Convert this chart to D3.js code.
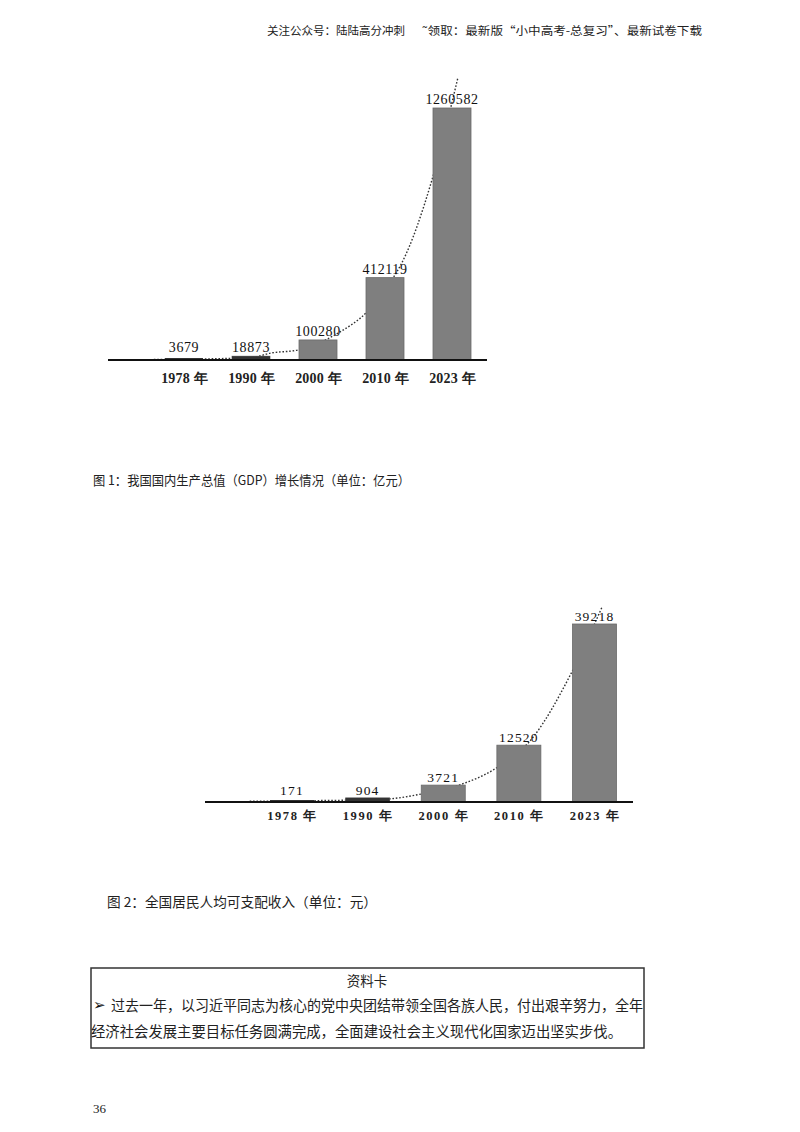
<!DOCTYPE html>
<html><head><meta charset="utf-8">
<script src="https://cdn.jsdelivr.net/npm/d3@7"></script>
<style>
html,body{margin:0;padding:0;background:#fff;}
svg{display:block;}
</style></head>
<body>
<svg id="page" width="800" height="1132"></svg>
<script>
// ---------- data ----------
const years = ["1978", "1990", "2000", "2010", "2023"];
const gdpValues = [3679, 18873, 100280, 412119, 1260582];
const gdpLabels = ["3679", "18873", "100280", "412119", "1260582"];
const incomeValues = [171, 904, 3721, 12520, 39218];
const incomeLabels = ["171", "904", "3721", "12520", "39218"];
// dotted trend lines: [category position, value]
const gdpTrendPos = [-0.45, 0, 1, 1.3, 1.7, 2.3, 2.73, 3.12, 3.25, 3.7, 4.09];
const gdpTrendVal = [3000, 4000, 12000, 35000, 50000, 135000, 240000, 410000, 485000, 900000, 1415000];
const incTrendPos = [-0.56, 0, 1, 1.27, 1.71, 2.25, 2.66, 3.19, 3.68, 4.1];
const incTrendVal = [150, 250, 500, 660, 1760, 3966, 7050, 14320, 27980, 42960];

const header1 = "关注公众号：陆陆高分冲刺";
const header2 = "˜领取：最新版“小中高考-总复习”、最新试卷下载";
const caption1 = "图 1：我国国内生产总值（GDP）增长情况（单位：亿元）";
const caption2 = "图 2：全国居民人均可支配收入（单位：元）";
const cardTitle = "资料卡";
const cardLine1 = "过去一年，以习近平同志为核心的党中央团结带领全国各族人民，付出艰辛努力，全年";
const cardLine2 = "经济社会发展主要目标任务圆满完成，全面建设社会主义现代化国家迈出坚实步伐。";
const pageNum = "36";

const svg = d3.select("#page");
const CJK = "'Noto Sans CJK SC','Noto Sans',sans-serif";
const SERIF = "'Liberation Serif','DejaVu Serif',serif";

// header
svg.append("text").attr("x", 267).attr("y", 35).attr("font-family", CJK).attr("font-size", 11.5)
  .attr("fill", "#222").text(header1);
svg.append("text").attr("x", 422).attr("y", 35).attr("font-family", CJK).attr("font-size", 11.5)
  .attr("fill", "#222").attr("textLength", 280).attr("lengthAdjust", "spacingAndGlyphs").text(header2);

function drawChart(opt) {
  const g = svg.append("g");
  const x = d3.scalePoint().domain(years).range(opt.xRange);
  const xi = d3.scaleLinear().domain([0, years.length - 1]).range(opt.xRange);
  const y = d3.scaleLinear().domain([0, opt.values[opt.values.length - 1]]).range([opt.base, opt.top]);

  // trend (behind bars)
  const line = d3.line().x(d => xi(d[0])).y(d => y(d[1])).curve(d3.curveMonotoneX);
  g.append("path").datum(opt.trendPos.map((p, i) => [p, opt.trendVal[i]]))
    .attr("d", line).attr("fill", "none").attr("stroke", "#333")
    .attr("stroke-width", 1.4).attr("stroke-dasharray", "1.6,1.8");

  // bars
  g.selectAll("rect.bar").data(opt.values).join("rect").attr("class", "bar")
    .attr("x", (d, i) => x(years[i]) - opt.bw / 2)
    .attr("y", d => y(d))
    .attr("width", opt.bw)
    .attr("height", d => opt.base - y(d))
    .attr("fill", "#7f7f7f").attr("stroke", "#6a6a6a").attr("stroke-width", 0.8);

  // small bars near baseline appear as dark strips
  g.selectAll("rect.small").data(opt.values.slice(0, 2)).join("rect").attr("class", "small")
    .attr("x", (d, i) => x(years[i]) - opt.bw / 2)
    .attr("y", d => Math.min(y(d), opt.base - 2))
    .attr("width", opt.bw)
    .attr("height", d => Math.max(opt.base - y(d), 2))
    .attr("fill", "#333");

  // value labels
  g.selectAll("text.val").data(opt.labels).join("text").attr("class", "val")
    .attr("x", (d, i) => x(years[i]))
    .attr("y", (d, i) => Math.min(y(opt.values[i]), opt.base - 4) - opt.labelGap)
    .attr("text-anchor", "middle").attr("font-family", SERIF)
    .attr("font-size", opt.valSize).attr("letter-spacing", opt.valSpacing)
    .attr("fill", "#111").text(d => d);

  // axis
  const axis = d3.axisBottom(x).tickSize(0).tickPadding(opt.tickPad).tickFormat(d => d + " 年");
  const ax = g.append("g").attr("transform", `translate(0,${opt.base})`).call(axis);
  ax.select(".domain").remove();
  ax.selectAll("text").attr("font-family", SERIF).attr("font-size", opt.tickSize)
    .attr("letter-spacing", opt.tickSpacing)
    .attr("font-weight", "bold").attr("fill", "#222");
  g.append("line").attr("x1", opt.axisX[0]).attr("x2", opt.axisX[1])
    .attr("y1", opt.base).attr("y2", opt.base).attr("stroke", "#111").attr("stroke-width", 2);
}

drawChart({
  values: gdpValues, labels: gdpLabels, trendPos: gdpTrendPos, trendVal: gdpTrendVal,
  xRange: [184, 452], base: 360, top: 108, bw: 38, axisX: [108, 487],
  valSize: 14, valSpacing: 0.6, labelGap: 4, tickSize: 14, tickSpacing: 0.2, tickPad: 13
});
drawChart({
  values: incomeValues, labels: incomeLabels, trendPos: incTrendPos, trendVal: incTrendVal,
  xRange: [292, 594.5], base: 802, top: 624, bw: 44, axisX: [205, 633],
  valSize: 13.5, valSpacing: 1.2, labelGap: 3, tickSize: 12.5, tickSpacing: 1.6, tickPad: 9
});

// captions
svg.append("text").attr("x", 93).attr("y", 485).attr("font-family", CJK).attr("font-size", 13)
  .attr("fill", "#222").attr("textLength", 317).attr("lengthAdjust", "spacingAndGlyphs").text(caption1);
svg.append("text").attr("x", 107).attr("y", 907).attr("font-family", CJK).attr("font-size", 13.5)
  .attr("fill", "#222").attr("textLength", 270).attr("lengthAdjust", "spacingAndGlyphs").text(caption2);

// info card
svg.append("rect").attr("x", 91).attr("y", 968).attr("width", 553).attr("height", 80)
  .attr("fill", "none").attr("stroke", "#333").attr("stroke-width", 1.5);
svg.append("text").attr("x", 367).attr("y", 986).attr("text-anchor", "middle").attr("font-family", CJK)
  .attr("font-size", 13.5).attr("fill", "#222").text(cardTitle);
svg.append("text").attr("x", 93).attr("y", 1010).attr("font-family", "'DejaVu Sans',sans-serif")
  .attr("font-size", 15).attr("fill", "#111").text("➢");
svg.append("text").attr("x", 111).attr("y", 1011).attr("font-family", CJK).attr("font-size", 14.7)
  .attr("fill", "#222").attr("textLength", 532).attr("lengthAdjust", "spacingAndGlyphs").text(cardLine1);
svg.append("text").attr("x", 91).attr("y", 1037).attr("font-family", CJK).attr("font-size", 14.7)
  .attr("fill", "#222").attr("textLength", 531).attr("lengthAdjust", "spacingAndGlyphs").text(cardLine2);

svg.append("text").attr("x", 93).attr("y", 1113).attr("font-family", SERIF).attr("font-size", 13)
  .attr("fill", "#222").text(pageNum);
</script>
</body></html>
